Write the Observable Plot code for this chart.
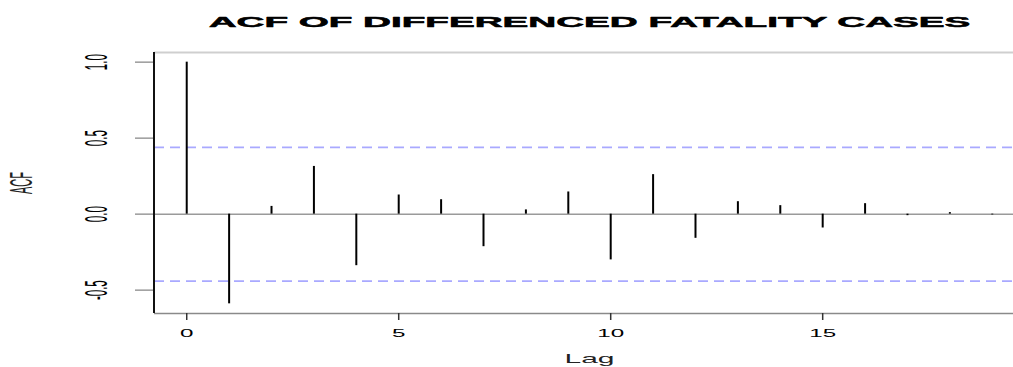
<!DOCTYPE html>
<html>
<head>
<meta charset="utf-8">
<script src="https://cdn.jsdelivr.net/npm/d3@7"></script>
<script src="https://cdn.jsdelivr.net/npm/@observablehq/plot@0.6"></script>
<style>
  html, body { margin: 0; padding: 0; background: #ffffff; overflow: hidden; }
  #chart svg { display: block; }
</style>
</head>
<body>
<div id="chart"></div>
<script>
// ---- data ----
const lags = [0, 1, 2, 3, 4, 5, 6, 7, 8, 9, 10, 11, 12, 13, 14, 15, 16, 17, 18, 19];
const acfValues = [1.0, -0.59, 0.051, 0.314, -0.339, 0.126, 0.095, -0.214, 0.028, 0.146,
                   -0.301, 0.26, -0.159, 0.082, 0.056, -0.091, 0.069, -0.01, 0.01, -0.005];
const ciBounds = [0.44, -0.44];
const xTicks = [0, 5, 10, 15];
const yTicks = [-0.5, 0.0, 0.5, 1.0];
const titleText = "ACF OF DIFFERENCED FATALITY CASES";
const xLabel = "Lag";
const yLabel = "ACF";

// scale domains (R-style 4% extension)
const xDomain = [-0.76, 19.76];
const yDomain = [-0.6536, 1.0636];

const data = lags.map((lag, i) => ({lag, acf: acfValues[i]}));

const chart = Plot.plot({
  width: 1013,
  height: 367,
  marginTop: 52,
  marginBottom: 54,
  marginLeft: 154,
  marginRight: -11,
  x: {domain: xDomain},
  y: {domain: yDomain},
  style: {fontFamily: "'Liberation Sans', Arial, sans-serif", background: "#ffffff", color: "#000"},
  marks: [
    // frame pieces
    Plot.ruleY([yDomain[1]], {stroke: "#cfcfcf", strokeWidth: 2.2}),
    Plot.ruleY([yDomain[0]], {stroke: "#8a8a8a", strokeWidth: 1.6}),
    // zero line
    Plot.ruleY([0], {stroke: "#9a9a9a", strokeWidth: 1.5}),
    // confidence bounds
    Plot.ruleY(ciBounds, {stroke: "#a9a9ff", strokeWidth: 1.7, strokeDasharray: "10,6"}),
    // ACF spikes
    Plot.ruleX(data, {x: "lag", y1: 0, y2: "acf", stroke: "#000", strokeWidth: 2}),
    // axes
    Plot.axisX({ticks: xTicks, tickSize: 7, tickPadding: 9, stroke: "#333", strokeWidth: 1.5,
                fontSize: 11, label: null, tickFormat: d => String(d)}),
    // y tick marks (horizontal, grey)
    Plot.axisY({ticks: yTicks, tickSize: 19, stroke: "#9a9a9a", strokeWidth: 1.5,
                label: null, tickFormat: () => ""}),
    // y tick labels (rotated)
    Plot.axisY({ticks: yTicks, tickSize: 0, tickPadding: 57,
                fontSize: 11.5, rotate: -90, textAnchor: "middle", lineAnchor: "middle",
                label: null, tickFormat: d => d.toFixed(1)}),
    Plot.ruleX([xDomain[0]], {stroke: "#111", strokeWidth: 2, dx: -0.5}),
    // labels
    Plot.text([titleText], {frameAnchor: "top", textAnchor: "middle", lineAnchor: "middle",
                dy: -30.3, fontSize: 14, fontWeight: "bold", fill: "#000", stroke: "#000", strokeWidth: 0.5}),
    Plot.text([xLabel], {frameAnchor: "bottom", textAnchor: "middle", lineAnchor: "middle",
                dy: 45, fontSize: 12.5, fill: "#222"}),
    Plot.text([yLabel], {frameAnchor: "left", textAnchor: "middle", lineAnchor: "middle",
                dx: -133, rotate: -90, fontSize: 11, fill: "#222"})
  ]
});

document.getElementById("chart").appendChild(chart);

// horizontal stretch of text, matching the wide glyphs of the reference
function stretch(nodes, s) {
  nodes.each(function () {
    const t = this.getAttribute("transform") || "";
    const m = t.match(/^\s*(translate\([^)]*\))\s*(.*)$/);
    if (m) {
      this.setAttribute("transform", `${m[1]} scale(${s},1) ${m[2]}`);
    } else {
      const x = +(this.getAttribute("x") || 0);
      this.setAttribute("transform", `translate(${x},0) scale(${s},1) translate(${-x},0) ${t}`);
    }
  });
}
const svg = d3.select(chart);
stretch(svg.selectAll('g[aria-label="x-axis tick label"] text'), 2.2);
stretch(svg.selectAll('g[aria-label="y-axis tick label"] text'), 2.7);
svg.selectAll('g[aria-label="text"] text').each(function () {
  const txt = this.textContent;
  const s = txt === titleText ? 2.76 : txt === xLabel ? 2.4 : 2.9;
  stretch(d3.select(this), s);
});
</script>
</body>
</html>
